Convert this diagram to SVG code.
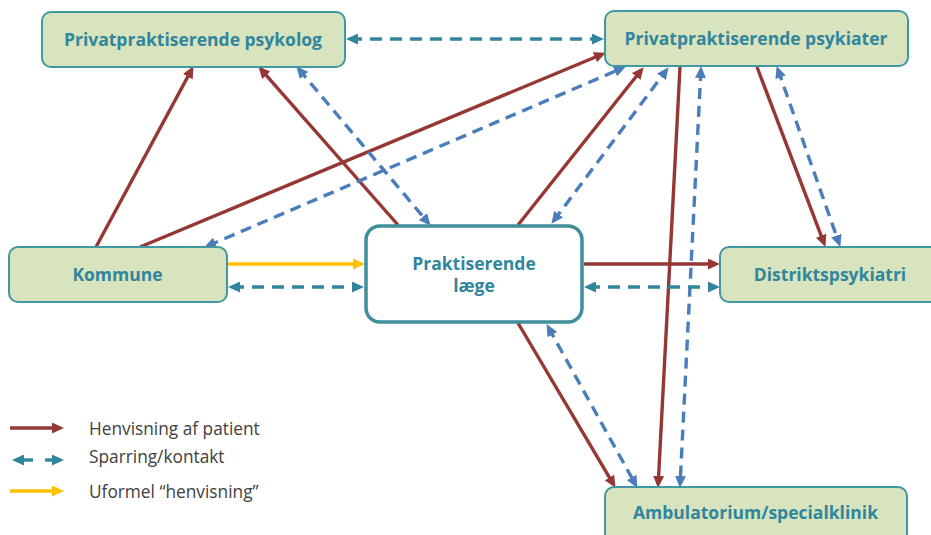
<svg xmlns="http://www.w3.org/2000/svg" width="931" height="535" viewBox="0 0 931 535">
  <style>
    .box { fill: #d7e4bd; stroke: #4197a4; stroke-width: 2; }
    .hub { fill: #ffffff; stroke: #3f8f9c; stroke-width: 3.5; }
    .lbl { font-family: "Open Sans", "Noto Sans", sans-serif; font-weight: bold; font-size: 17.5px; fill: #31859c; text-anchor: middle; }
    .leg { font-family: "Open Sans", "Noto Sans", sans-serif; font-size: 17.3px; fill: #404040; }
    .ref { stroke: #953735; stroke-width: 3.4; fill: none; }
    .spar { stroke: #4a7ebb; stroke-width: 3.4; fill: none; stroke-dasharray: 11 7; }
    .kon { stroke: #31859c; stroke-width: 3.4; fill: none; stroke-dasharray: 12 8; }
    .inf { stroke: #ffc000; stroke-width: 3.4; fill: none; }
  </style>
  <defs>
    <marker id="hRed" markerUnits="userSpaceOnUse" markerWidth="12" markerHeight="11" refX="8" refY="5.5" orient="auto-start-reverse" viewBox="0 0 12 11">
      <path d="M0,0 L12,5.5 L0,11 z" fill="#953735"/>
    </marker>
    <marker id="hBlue" markerUnits="userSpaceOnUse" markerWidth="12" markerHeight="11" refX="8" refY="5.5" orient="auto-start-reverse" viewBox="0 0 12 11">
      <path d="M0,0 L12,5.5 L0,11 z" fill="#4a7ebb"/>
    </marker>
    <marker id="hTeal" markerUnits="userSpaceOnUse" markerWidth="12" markerHeight="11" refX="8" refY="5.5" orient="auto-start-reverse" viewBox="0 0 12 11">
      <path d="M0,0 L12,5.5 L0,11 z" fill="#31859c"/>
    </marker>
    <marker id="hYel" markerUnits="userSpaceOnUse" markerWidth="12" markerHeight="11" refX="8" refY="5.5" orient="auto-start-reverse" viewBox="0 0 12 11">
      <path d="M0,0 L12,5.5 L0,11 z" fill="#ffc000"/>
    </marker>
  </defs>

  <rect width="931" height="535" fill="#ffffff"/>

  <g id="connectors">
    <!-- referrals (solid red) -->
    <line class="ref" x1="96" y1="247" x2="191.6" y2="69.6" marker-end="url(#hRed)"/>
    <line class="ref" x1="140" y1="247" x2="602.2" y2="54.2" marker-end="url(#hRed)"/>
    <line class="ref" x1="398" y1="225" x2="261" y2="69.3" marker-end="url(#hRed)"/>
    <line class="ref" x1="518" y1="225" x2="641.1" y2="70.3" marker-end="url(#hRed)"/>
    <line class="ref" x1="680" y1="67" x2="658.2" y2="484" marker-end="url(#hRed)"/>
    <line class="ref" x1="757" y1="67" x2="824" y2="243.2" marker-end="url(#hRed)"/>
    <line class="ref" x1="584" y1="264" x2="716" y2="264" marker-end="url(#hRed)"/>
    <line class="ref" x1="518" y1="323" x2="613.5" y2="484.4" marker-end="url(#hRed)"/>

    <!-- sparring (dashed blue, both ways) -->
    <line class="spar" x1="298.9" y1="69.3" x2="428.1" y2="222.7" marker-start="url(#hBlue)" marker-end="url(#hBlue)"/>
    <line class="spar" x1="207.8" y1="245.8" x2="622.2" y2="68.2" marker-start="url(#hBlue)" marker-end="url(#hBlue)"/>
    <line class="spar" x1="553.8" y1="220.6" x2="666.2" y2="70.4" marker-start="url(#hBlue)" marker-end="url(#hBlue)"/>
    <line class="spar" x1="700.9" y1="70" x2="680.1" y2="484" marker-start="url(#hBlue)" marker-end="url(#hBlue)"/>
    <line class="spar" x1="778" y1="69.8" x2="839" y2="243.2" marker-start="url(#hBlue)" marker-end="url(#hBlue)"/>
    <line class="spar" x1="548.5" y1="327.6" x2="635.5" y2="484.4" marker-start="url(#hBlue)" marker-end="url(#hBlue)"/>

    <!-- contact (dashed teal, both ways) -->
    <line class="kon" x1="350" y1="39" x2="600" y2="39" marker-start="url(#hTeal)" marker-end="url(#hTeal)"/>
    <line class="kon" x1="232" y1="287" x2="360" y2="287" marker-start="url(#hTeal)" marker-end="url(#hTeal)"/>
    <line class="kon" x1="588" y1="287" x2="716" y2="287" marker-start="url(#hTeal)" marker-end="url(#hTeal)"/>

    <!-- informal referral (yellow) -->
    <line class="inf" x1="227" y1="264" x2="361" y2="264" marker-end="url(#hYel)"/>
  </g>

  <g id="psykolog">
    <rect class="box" x="42" y="12" width="303" height="55" rx="9"/>
    <text class="lbl" x="193" y="46">Privatpraktiserende psykolog</text>
  </g>
  <g id="psykiater">
    <rect class="box" x="605" y="11" width="303" height="55" rx="9"/>
    <text class="lbl" x="756" y="45">Privatpraktiserende psykiater</text>
  </g>
  <g id="kommune">
    <rect class="box" x="9" y="247" width="218" height="55" rx="9"/>
    <text class="lbl" x="117.5" y="281">Kommune</text>
  </g>
  <g id="laege">
    <rect class="hub" x="366" y="226" width="216" height="96" rx="14"/>
    <text class="lbl" x="474" y="270">Praktiserende</text>
    <text class="lbl" x="474" y="292">læge</text>
  </g>
  <g id="distriktspsykiatri">
    <rect class="box" x="720" y="247" width="220" height="55" rx="9"/>
    <text class="lbl" x="830" y="281">Distriktspsykiatri</text>
  </g>
  <g id="ambulatorium">
    <rect class="box" x="605" y="487" width="302" height="60" rx="9"/>
    <text class="lbl" x="755.5" y="519">Ambulatorium/specialklinik</text>
  </g>

  <g id="legend">
    <line class="ref" x1="10" y1="428" x2="60" y2="428" marker-end="url(#hRed)"/>
    <line stroke="#31859c" stroke-width="3.4" x1="16" y1="460" x2="33" y2="460" marker-start="url(#hTeal)"/>
    <line stroke="#31859c" stroke-width="3.4" x1="45" y1="460" x2="60" y2="460" marker-end="url(#hTeal)"/>
    <line class="inf" x1="10" y1="491" x2="60" y2="491" marker-end="url(#hYel)"/>
    <text class="leg" x="89" y="435">Henvisning af patient</text>
    <text class="leg" x="89" y="463">Sparring/kontakt</text>
    <text class="leg" x="89" y="498">Uformel “henvisning”</text>
  </g>
</svg>
